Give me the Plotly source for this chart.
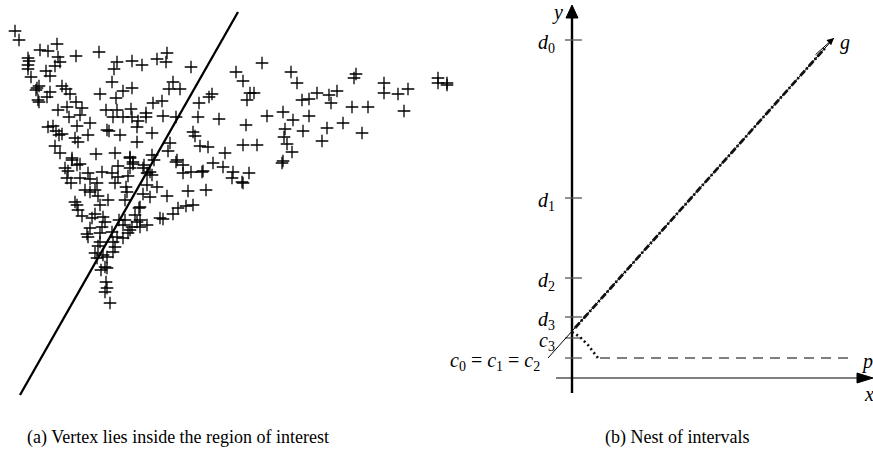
import plotly.graph_objects as go

W, H = 873, 450
SERIF = "Liberation Serif, DejaVu Serif, serif"

# ---------------- (a) sample vertices and separating line ----------------
pts_x = [15, 19, 40, 48, 57, 58, 60, 55, 28, 29, 28, 28, 31, 76, 99, 46, 50, 117, 132, 142,
         114, 157, 166, 167, 191, 112, 173, 169, 180, 123, 132, 116, 100, 37, 39, 36, 38, 39, 50, 47,
         62, 66, 70, 76, 82, 58, 67, 69, 80, 90, 106, 117, 113, 123, 131, 132, 138, 146, 146, 153,
         162, 163, 176, 199, 198, 209, 212, 219, 236, 48, 53, 56, 59, 77, 75, 78, 88, 107, 109, 120,
         137, 137, 152, 55, 60, 72, 96, 115, 130, 152, 170, 168, 193, 195, 200, 208, 225, 262, 243, 291,
         297, 250, 254, 247, 246, 267, 283, 293, 285, 284, 287, 292, 282, 283, 303, 302, 309, 317, 329, 337,
         331, 309, 327, 322, 343, 356, 354, 352, 368, 362, 384, 384, 398, 408, 404, 438, 438, 447, 447, 243,
         257, 213, 223, 233, 232, 249, 242, 243, 206, 203, 133, 154, 144, 147, 152, 176, 183, 183, 191, 202,
         72, 65, 68, 77, 80, 67, 71, 80, 88, 90, 97, 102, 112, 118, 118, 115, 128, 147, 157, 150,
         167, 188, 178, 186, 193, 173, 160, 163, 85, 90, 95, 98, 108, 127, 125, 143, 75, 77, 78, 82,
         92, 95, 100, 103, 105, 102, 100, 90, 88, 87, 100, 98, 95, 97, 103, 107, 105, 101, 107, 106,
         107, 105, 110, 115, 113, 117, 123, 119, 123, 132, 130, 128, 137, 140, 140, 147, 139, 135, 125, 112,
         113, 62, 126, 133, 130, 130, 177, 140, 143, 150]
pts_y = [31, 40, 50, 51, 44, 57, 62, 66, 58, 61, 65, 69, 77, 56, 52, 71, 76, 62, 61, 65,
         69, 59, 62, 53, 67, 82, 82, 89, 89, 91, 88, 98, 94, 88, 86, 90, 100, 102, 92, 97,
         86, 89, 94, 102, 108, 110, 107, 117, 115, 123, 110, 110, 117, 117, 109, 117, 121, 113, 117, 103,
         101, 116, 117, 103, 117, 97, 94, 119, 72, 127, 126, 131, 135, 126, 138, 142, 135, 130, 131, 135,
         127, 142, 133, 146, 153, 158, 154, 153, 157, 155, 143, 151, 132, 136, 146, 147, 153, 63, 81, 72,
         83, 93, 93, 100, 125, 116, 112, 120, 129, 137, 144, 152, 163, 161, 131, 100, 99, 93, 95, 91,
         103, 116, 128, 141, 123, 74, 78, 107, 107, 133, 83, 93, 94, 89, 111, 78, 83, 83, 85, 145,
         145, 163, 167, 172, 178, 173, 182, 183, 190, 171, 164, 160, 165, 173, 175, 162, 165, 173, 172, 172,
         160, 168, 171, 165, 164, 178, 183, 178, 173, 179, 183, 172, 173, 166, 177, 183, 176, 185, 187, 197,
         196, 191, 208, 206, 205, 214, 218, 219, 190, 192, 190, 196, 200, 192, 200, 194, 202, 205, 210, 216,
         218, 214, 205, 217, 222, 227, 233, 228, 237, 234, 242, 246, 253, 258, 255, 257, 267, 270, 268, 282,
         288, 292, 303, 247, 252, 237, 238, 220, 225, 227, 230, 233, 222, 220, 227, 225, 208, 215, 220, 232,
         242, 134, 187, 162, 158, 168, 160, 207, 168, 172]
sep_x = [20, 238]
sep_y = [395, 12]

# ---------------- (b) nested intervals ----------------
tick_vals = [338, 180, 100, 61, 40, 20]
tick_text = ["<i>d</i><sub>0</sub>", "<i>d</i><sub>1</sub>", "<i>d</i><sub>2</sub>",
             "<i>d</i><sub>3</sub>", "<i>c</i><sub>3</sub>",
             "<i>c</i><sub>0</sub> = <i>c</i><sub>1</sub> = <i>c</i><sub>2</sub>"]
g_x = [-24, 262]
g_y = [20, 340]
upper_x = [3, 254]
upper_y = [50, 331]
lower_x = [0, 8, 16, 21, 26]
lower_y = [46, 41, 33, 26, 20]
p_x = [28, 281]
p_y = [20, 20]
yaxis_x = [0, 0]
yaxis_y = [-15, 362]
xaxis_x = [-16, 288]
xaxis_y = [0, 0]
X2_RANGE = [-112, 301]
Y2_RANGE = [-72, 378]

fig = go.Figure()

# (a)
fig.add_trace(go.Scatter(x=pts_x, y=pts_y, mode="markers", xaxis="x", yaxis="y",
                         marker=dict(symbol="cross-thin", size=9,
                                     line=dict(width=1.3, color="black"))))
fig.add_trace(go.Scatter(x=sep_x, y=sep_y, mode="lines", xaxis="x", yaxis="y",
                         line=dict(color="black", width=2.3)))

# (b) axes drawn as lines with filled arrowheads
fig.add_trace(go.Scatter(x=yaxis_x, y=yaxis_y, mode="lines", xaxis="x2", yaxis="y2",
                         line=dict(color="black", width=2.4)))
fig.add_trace(go.Scatter(x=xaxis_x, y=xaxis_y, mode="lines", xaxis="x2", yaxis="y2",
                         line=dict(color="black", width=1.2)))
ytip = Y2_RANGE[1] - 5
fig.add_trace(go.Scatter(x=[-6, 6, 0, -6], y=[yaxis_y[1] - 2, yaxis_y[1] - 2, ytip, yaxis_y[1] - 2],
                         mode="lines", fill="toself", fillcolor="black", xaxis="x2", yaxis="y2",
                         line=dict(color="black", width=1)))
xtip = X2_RANGE[1]
fig.add_trace(go.Scatter(x=[xaxis_x[1] - 3, xaxis_x[1] - 3, xtip, xaxis_x[1] - 3], y=[5, -5, 0, 5],
                         mode="lines", fill="toself", fillcolor="black", xaxis="x2", yaxis="y2",
                         line=dict(color="black", width=1)))

# interval ticks on the y axis
for v in tick_vals:
    fig.add_trace(go.Scatter(x=[-7, 10], y=[v, v], mode="lines", xaxis="x2", yaxis="y2",
                             line=dict(color="#555555", width=1.3)))

fig.add_trace(go.Scatter(x=p_x, y=p_y, mode="lines", xaxis="x2", yaxis="y2",
                         line=dict(color="#555555", width=1.3, dash="10px,7px")))
fig.add_trace(go.Scatter(x=g_x, y=g_y, mode="lines", xaxis="x2", yaxis="y2",
                         line=dict(color="black", width=1)))
fig.add_trace(go.Scatter(x=upper_x, y=upper_y, mode="lines", xaxis="x2", yaxis="y2",
                         line=dict(color="#111111", width=2.8, dash="7px,2px,2px,2px")))
fig.add_trace(go.Scatter(x=lower_x, y=lower_y, mode="lines", xaxis="x2", yaxis="y2",
                         line=dict(color="#111111", width=2.6, dash="2px,3px")))

MATH = dict(family=SERIF, size=20, color="black")
annotations = [
    # arrowhead at the end of g
    dict(x=g_x[1], y=g_y[1], ax=g_x[1] - 20, ay=g_y[1] - 18, xref="x2", yref="y2",
         axref="x2", ayref="y2", text="", showarrow=True, arrowhead=2, arrowsize=1.4,
         arrowwidth=1, arrowcolor="black"),
    dict(x=g_x[1] + 4, y=g_y[1] - 4, xref="x2", yref="y2", text="<i>g</i>", showarrow=False,
         xanchor="left", yanchor="middle", font=MATH),
    dict(x=-7, y=yaxis_y[1] + 4, xref="x2", yref="y2", text="<i>y</i>", showarrow=False,
         xanchor="right", yanchor="middle", font=MATH),
    dict(x=X2_RANGE[1] - 11, y=-16, xref="x2", yref="y2", text="<i>x</i>", showarrow=False,
         xanchor="left", yanchor="middle", font=MATH),
    dict(x=p_x[1] + 6, y=p_y[1] - 3, xref="x2", yref="y2", text="<i>p</i>", showarrow=False,
         xanchor="left", yanchor="middle", font=MATH),
]
for v, t in zip(tick_vals, tick_text):
    xa = -15 if v > 30 else -30
    annotations.append(dict(x=xa, y=v - 3, xref="x2", yref="y2", text=t, showarrow=False,
                            xanchor="right", yanchor="middle", font=MATH))

CAPTION = dict(family=SERIF, size=18, color="black")
annotations += [
    dict(x=25, y=437, xref="x", yref="y", text="(a) Vertex lies inside the region of interest",
         showarrow=False, xanchor="left", yanchor="middle", font=CAPTION),
    dict(x=105, y=-59, xref="x2", yref="y2", text="(b) Nest of intervals",
         showarrow=False, xanchor="center", yanchor="middle", font=CAPTION),
]

hidden = dict(showgrid=False, zeroline=False, showticklabels=False, ticks="", showline=False)
fig.update_layout(
    width=W, height=H, margin=dict(l=0, r=0, t=0, b=0),
    paper_bgcolor="white", plot_bgcolor="white", showlegend=False,
    xaxis=dict(domain=[0, 460 / W], range=[0, 460], **hidden),
    yaxis=dict(domain=[0, 1], range=[450, 0], **hidden),
    xaxis2=dict(domain=[460 / W, 1], range=X2_RANGE, anchor="y2", **hidden),
    yaxis2=dict(domain=[0, 1], range=Y2_RANGE, anchor="x2", **hidden),
    annotations=annotations,
)

fig.write_html("out.html")
